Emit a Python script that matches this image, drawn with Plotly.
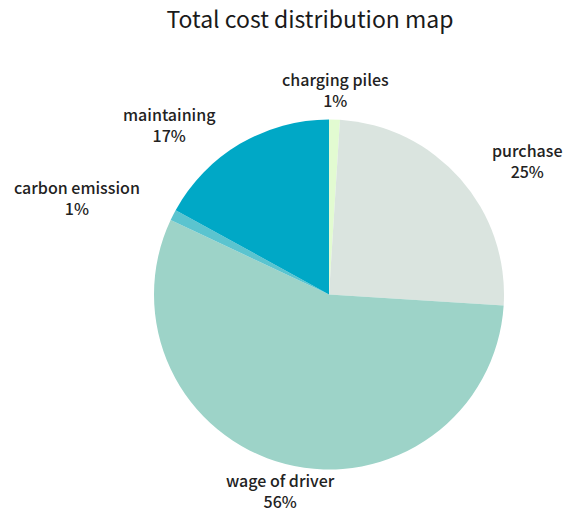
import math
import plotly.graph_objects as go

# Cost categories in clockwise order starting from 12 o'clock
categories = ["charging piles", "purchase", "wage of driver", "carbon emission", "maintaining"]
shares = [1, 25, 56, 1, 17]
colors = ["#e2fbd1", "#dae4df", "#9dd3c8", "#5bc4cf", "#00a8c6"]

W, H = 568, 512
CX, CY, R = 329, 294.5, 175  # pie centre and radius in pixels
LABEL_RX, LABEL_RY = 195, 181  # label anchor ellipse around the centre
FONT = "Noto Sans CJK SC"

fig = go.Figure(
    go.Pie(
        labels=categories,
        values=shares,
        sort=False,
        direction="clockwise",
        rotation=0,
        marker=dict(colors=colors, line=dict(width=0)),
        textinfo="none",
        hoverinfo="label+percent",
        showlegend=False,
        domain=dict(
            x=[(CX - R) / W, (CX + R) / W],
            y=[1 - (CY + R) / H, 1 - (CY - R) / H],
        ),
    )
)

# Outside labels placed at each slice's mid-angle
total = sum(shares)
annotations = []
cum = 0
for name, v in zip(categories, shares):
    mid = (cum + v / 2) / total * 2 * math.pi
    cum += v
    s, c = math.sin(mid), math.cos(mid)
    px = CX + LABEL_RX * s
    py = CY - LABEL_RY * c
    yshift = 0
    if s > 0.3:
        xanchor = "left"
        px += 15
        yshift = -10
    elif s < -0.3:
        xanchor = "right"
        px -= 13
        yshift = -10
    else:
        xanchor = "center"
        if c < 0:
            yshift = 4
    yanchor = "bottom" if c > 0 else "top"
    annotations.append(
        dict(
            x=px / W,
            y=1 - py / H,
            xref="paper",
            yref="paper",
            xanchor=xanchor,
            yanchor=yanchor,
            yshift=yshift,
            text=f"{name}<br>{round(v / total * 100)}%",
            showarrow=False,
            align="center",
            font=dict(family=FONT, size=16, color="#222222", weight=500),
        )
    )

fig.update_layout(
    width=W,
    height=H,
    margin=dict(l=0, r=0, t=0, b=0),
    paper_bgcolor="white",
    plot_bgcolor="white",
    title=dict(
        text="Total cost distribution map",
        x=310 / W,
        xanchor="center",
        y=1 - 20 / H,
        yanchor="middle",
        font=dict(family=FONT, size=23, color="#1a1a1a"),
    ),
    annotations=annotations,
)

fig.write_html("out.html")
